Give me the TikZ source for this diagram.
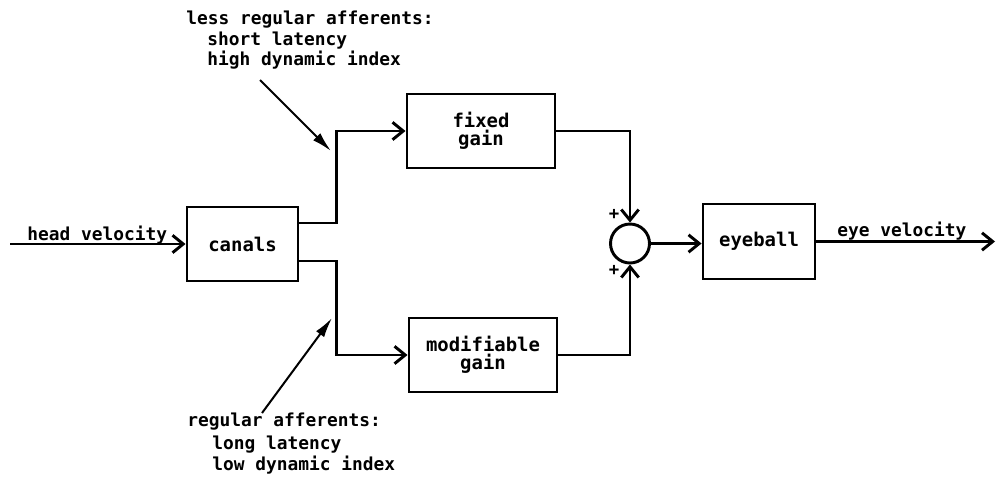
\documentclass[tikz,border=0pt]{standalone}
\usepackage{fontspec}
\setmonofont{DejaVu Sans Mono}
\usetikzlibrary{arrows.meta}
\begin{document}
\begin{tikzpicture}[x=0.75pt,y=-0.75pt,
  lbl/.style={font=\fontsize{13.4}{16}\selectfont\ttfamily\bfseries, inner sep=0pt, anchor=base west},
  blk/.style={draw, line width=2.2pt, minimum height=55.5pt, inner sep=0pt, align=center,
              font=\fontsize{14.2}{13.5}\selectfont\ttfamily\bfseries},
  conn/.style={line width=2.2pt, -{Straight Barb[length=8pt,width=13pt]}},
  ann/.style={line width=1.5pt, -{Latex[length=15pt,width=7.5pt]}},
  plus/.style={font=\fontsize{13}{13}\selectfont\ttfamily\bfseries, inner sep=0pt}]
\useasboundingbox (0,0) rectangle (998,476);

% blocks
\node[blk, minimum width=83.25pt] (canals) at (242.5,244) {canals};
\node[blk, minimum width=111pt] (fixed) at (481,131) {fixed\\gain};
\node[blk, minimum width=111pt] (modif) at (483,355) {modifiable\\gain};
\node[blk, minimum width=84pt, minimum height=56.25pt] (eyeball) at (759,241.5) {eyeball};
\node[draw, circle, line width=2.2pt, minimum size=29.25pt, inner sep=0pt] (sum) at (630,243.5) {};

% labels
\node[lbl] (hv) at (27,240) {head velocity};
\node[lbl] (ev) at (837,236) {eye velocity};
\node[lbl] (up1) at (186,24) {less regular afferents:};
\node[lbl] (up2) at (207,45) {short latency};
\node[lbl] (up3) at (207,65) {high dynamic index};
\node[lbl] (lo1) at (187,426) {regular afferents:};
\node[lbl] (lo2) at (212,449) {long latency};
\node[lbl] (lo3) at (212,470) {low dynamic index};
\node[plus] (p1) at (614,214) {+};
\node[plus] (p2) at (614,270) {+};

% coordinates
\coordinate (in) at (10,244);
\coordinate (out) at (995,241.5);
\coordinate (a1s) at (260,80);
\coordinate (a1e) at (331,151);
\coordinate (a2s) at (262,413);
\coordinate (a2e) at (332,318);

% connectors
\draw[conn] (in) -- (canals.west);
\draw[conn] ([yshift=15.75pt]canals.east) -- ++(37,0) |- (fixed.west);
\draw[conn] ([yshift=-12.75pt]canals.east) -- ++(37,0) |- (modif.west);
\draw[conn] (fixed.east) -| (sum.north);
\draw[conn] (modif.east) -| (sum.south);
\draw[conn] (sum.east) -- (sum.east -| eyeball.west);
\draw[conn] (eyeball.east) -- (out);

% annotation arrows
\draw[ann] (a1s) -- (a1e);
\draw[ann] (a2s) -- (a2e);
\end{tikzpicture}
\end{document}
